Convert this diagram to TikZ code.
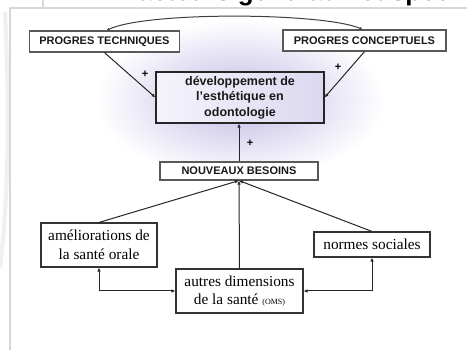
\documentclass[tikz,border=0pt]{standalone}
\usepackage{fontspec}
\setmainfont{Liberation Serif}
\setsansfont{Liberation Sans}
\usetikzlibrary{arrows.meta,calc}
\definecolor{glow}{RGB}{192,186,228}
\definecolor{boxlav}{RGB}{220,216,240}
\definecolor{framegray}{RGB}{215,215,215}
\begin{document}
\begin{tikzpicture}[x=1pt,y=-1pt,
  every node/.style={inner sep=0pt, align=center},
  capbox/.style={draw=black!65, line width=1.2pt, fill=white, text=black!90,
    font=\sffamily\bfseries\fontsize{11}{13}\selectfont},
  devbox/.style={draw=black!85, line width=1.2pt, shading=axis, left color=white!70!boxlav, right color=boxlav,
    text=black!90, font=\sffamily\bfseries\fontsize{12.5}{15.5}\selectfont},
  serifbox/.style={draw=black!80, line width=1.1pt, fill=white, text=black,
    font=\fontsize{15.3}{18.5}\selectfont},
  arr/.style={draw=black!85, line width=1pt, -{Latex[length=4pt,width=3.5pt]}},
  twoarr/.style={draw=black!85, line width=1pt, {Latex[length=4pt,width=3.5pt]}-{Latex[length=4pt,width=3.5pt]}},
  plus/.style={text=black, font=\sffamily\bfseries\fontsize{11}{11}\selectfont}]

\useasboundingbox (0,0) rectangle (467,350);
\fill[white] (0,0) rectangle (467,350);

% faint watermark arc and slide frame
\draw[gray!12, line width=4pt] (5,12) .. controls (10,120) and (8,200) .. (0,268);
\draw[framegray, line width=2pt] (10,350) -- (10,8) -- (467,8);
\draw[framegray, line width=2pt] (43,0) -- (43,8);

% title: only its lower edge shows above the page top
\node[anchor=south west, text=black, font=\sffamily\bfseries\fontsize{26}{26}\selectfont] (title) at (122,6.5)
    {Facteurs généraux et spécifiques de l'esthétique};

% glow
\shade[inner color=glow, outer color=white] (240,100) ellipse [x radius=145pt, y radius=80pt];

% nodes
\node[capbox, minimum width=150pt, minimum height=21pt] (pt) at (104.5,41.5) {PROGRES TECHNIQUES};
\node[capbox, minimum width=163pt, minimum height=21pt] (pc) at (364.5,40.5) {PROGRES CONCEPTUELS};
\node[devbox, minimum width=168pt, minimum height=51pt] (dev) at (240,97.5)
  {développement de\\l'esthétique en\\odontologie};
\node[capbox, minimum width=158pt, minimum height=18pt] (nb) at (239,171) {NOUVEAUX BESOINS};
\node[serifbox, minimum width=116pt, minimum height=44pt] (am) at (99,245) {améliorations de\\la santé orale};
\node[serifbox, minimum width=116pt, minimum height=25pt] (ns) at (372,244.5) {normes sociales};
\node[serifbox, minimum width=127pt, minimum height=44pt] (au) at (239.5,291)
  {autres dimensions\\de la santé {\fontsize{8}{8}\selectfont(OMS)}};

% top arc
\draw[draw=black!75, line width=1pt, {Latex[length=3pt,width=3pt]}-{Latex[length=3pt,width=3pt]}]
  ([xshift=2pt]pt.north) .. controls +(40,-19) and +(-40,-17) .. ([xshift=-2pt]pc.north);

% arrows into dev
\draw[arr] (pt.south) -- (dev.west);
\draw[arr] (pc.south) -- (dev.east);
\draw[arr] (nb.north) -- (nb.north |- dev.south);
\node[plus] (p1) at (145,74) {+};
\node[plus] (p2) at (338,67) {+};
\node[plus] (p3) at (250,143) {+};

% arrows into NB
\draw[arr] (am.north) -- (nb.south);
\draw[arr] (ns.north) -- (nb.south);
\draw[arr] (au.north) -- (nb.south);

% bottom double arrows
\draw[twoarr] (am.south) |- (au.west);
\draw[twoarr] (ns.south) |- (au.east);
\end{tikzpicture}
\end{document}
